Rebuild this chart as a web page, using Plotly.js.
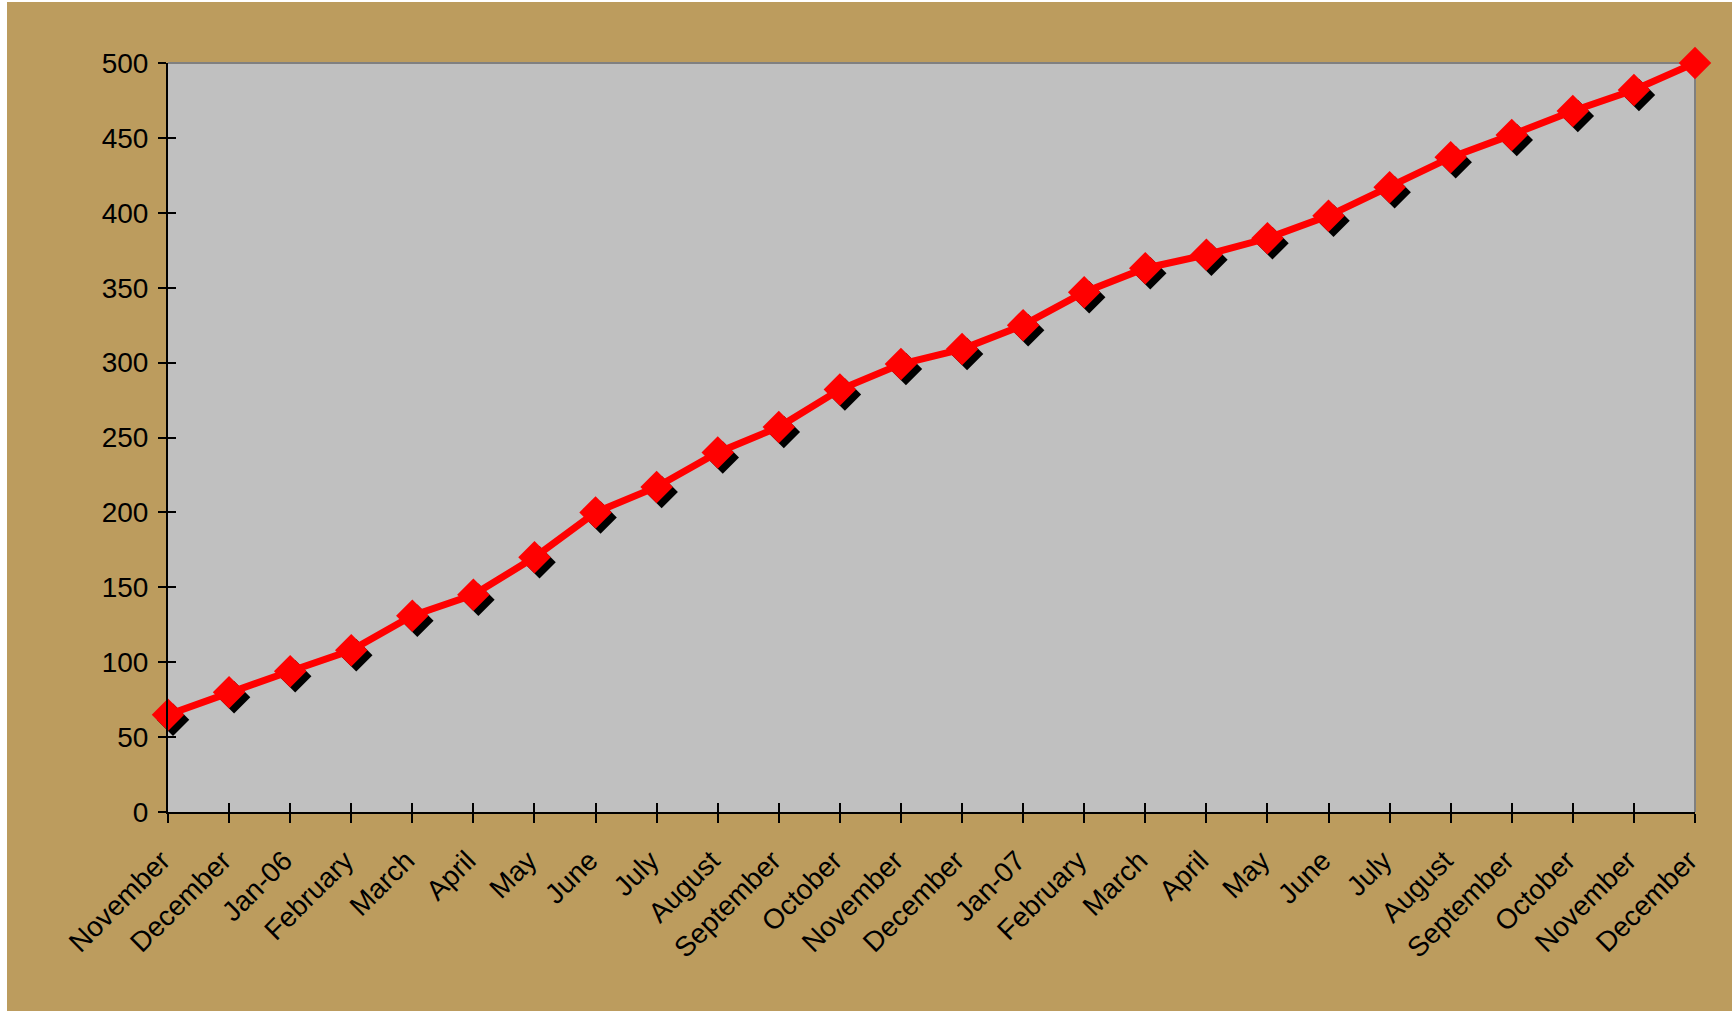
<!DOCTYPE html>
<html>
<head>
<meta charset="utf-8">
<script src="https://cdn.plot.ly/plotly-3.0.1.min.js"></script>
<style>
  html, body { margin: 0; padding: 0; background: #ffffff; }
  #chart { position: absolute; left: 7px; top: 2px; width: 1725px; height: 1009px; }
</style>
</head>
<body>
<div id="chart"></div>
<script>
// ---- data ----
const months = ["November","December","Jan-06","February","March","April","May","June","July","August","September","October","November","December","Jan-07","February","March","April","May","June","July","August","September","October","November","December"];
const values = [65, 80, 94, 108, 131, 145, 170, 200, 217, 240, 257, 282, 299, 309, 325, 347, 363, 372, 383, 398, 417, 437, 452, 468, 482, 500];
const yTicks = [0, 50, 100, 150, 200, 250, 300, 350, 400, 450, 500];

// ---- layout constants ----
const W = 1725, H = 1009;
const M = { l: 161, r: 37, t: 61, b: 199 };
const plotW = W - M.l - M.r, plotH = H - M.t - M.b;
const idx = months.map((_, i) => i);
const xMax = months.length - 1;
const shadowPx = 5;
const dx = shadowPx * xMax / plotW;
const dy = shadowPx * 500 / plotH;

const font = { family: "Liberation Sans, Arial, sans-serif", size: 28, color: "#000" };
const mSize = 25;

const traces = [
  { // base subplot: carries the visible axes
    x: [0], y: [0], type: "scatter", mode: "markers",
    marker: { opacity: 0 }, hoverinfo: "skip", showlegend: false
  },
  { // shadow of markers
    x: idx, y: values, xaxis: "x2", yaxis: "y2", type: "scatter", mode: "markers",
    marker: { symbol: "diamond", size: mSize, color: "#000000", line: { width: 0 } },
    cliponaxis: false, hoverinfo: "skip", showlegend: false
  },
  { // series
    x: idx, y: values, xaxis: "x3", yaxis: "y3", type: "scatter", mode: "lines+markers",
    line: { color: "#FF0000", width: 7 },
    marker: { symbol: "diamond", size: mSize, color: "#FF0000", line: { width: 0 } },
    cliponaxis: false, showlegend: false
  }
];

const layout = {
  width: W, height: H,
  margin: M,
  paper_bgcolor: "#BC9C5E",
  plot_bgcolor: "#C0C0C0",
  font: font,
  showlegend: false,
  xaxis: {
    range: [0, xMax], tickvals: idx, ticktext: months, tickangle: -45,
    showgrid: false, zeroline: false, showline: true, linecolor: "#000", linewidth: 2,
    ticks: "outside", ticklen: 9, tickwidth: 2, tickcolor: "#000",
    ticklabelstandoff: 10, ticklabelshift: -6,
    tickfont: font, fixedrange: true
  },
  yaxis: {
    range: [0, 500], tickvals: yTicks,
    showgrid: false, zeroline: false, showline: true, linecolor: "#000", linewidth: 2,
    ticks: "outside", ticklen: 8, tickwidth: 2, tickcolor: "#000",
    ticklabelstandoff: 4,
    tickfont: font, fixedrange: true
  },
  xaxis2: { overlaying: "x", range: [-dx, xMax - dx], visible: false, fixedrange: true },
  yaxis2: { overlaying: "y", range: [dy, 500 + dy], visible: false, fixedrange: true },
  xaxis3: {
    overlaying: "x", range: [0, xMax], tickvals: idx, showticklabels: false,
    showgrid: false, zeroline: false, showline: false,
    ticks: "inside", ticklen: 9, tickwidth: 2, tickcolor: "#000", fixedrange: true
  },
  yaxis3: {
    overlaying: "y", range: [0, 500], tickvals: yTicks, showticklabels: false,
    showgrid: false, zeroline: false, showline: false,
    ticks: "inside", ticklen: 8, tickwidth: 2, tickcolor: "#000", fixedrange: true
  },
  shapes: [
    { type: "line", xref: "paper", yref: "paper", x0: 0, x1: 1, y0: 1, y1: 1,
      line: { color: "#808080", width: 2 }, layer: "below" },
    { type: "line", xref: "paper", yref: "paper", x0: 1, x1: 1, y0: 0, y1: 1,
      line: { color: "#808080", width: 2 }, layer: "below" }
  ]
};

Plotly.newPlot("chart", traces, layout, { displayModeBar: false, staticPlot: true });
</script>
</body>
</html>
